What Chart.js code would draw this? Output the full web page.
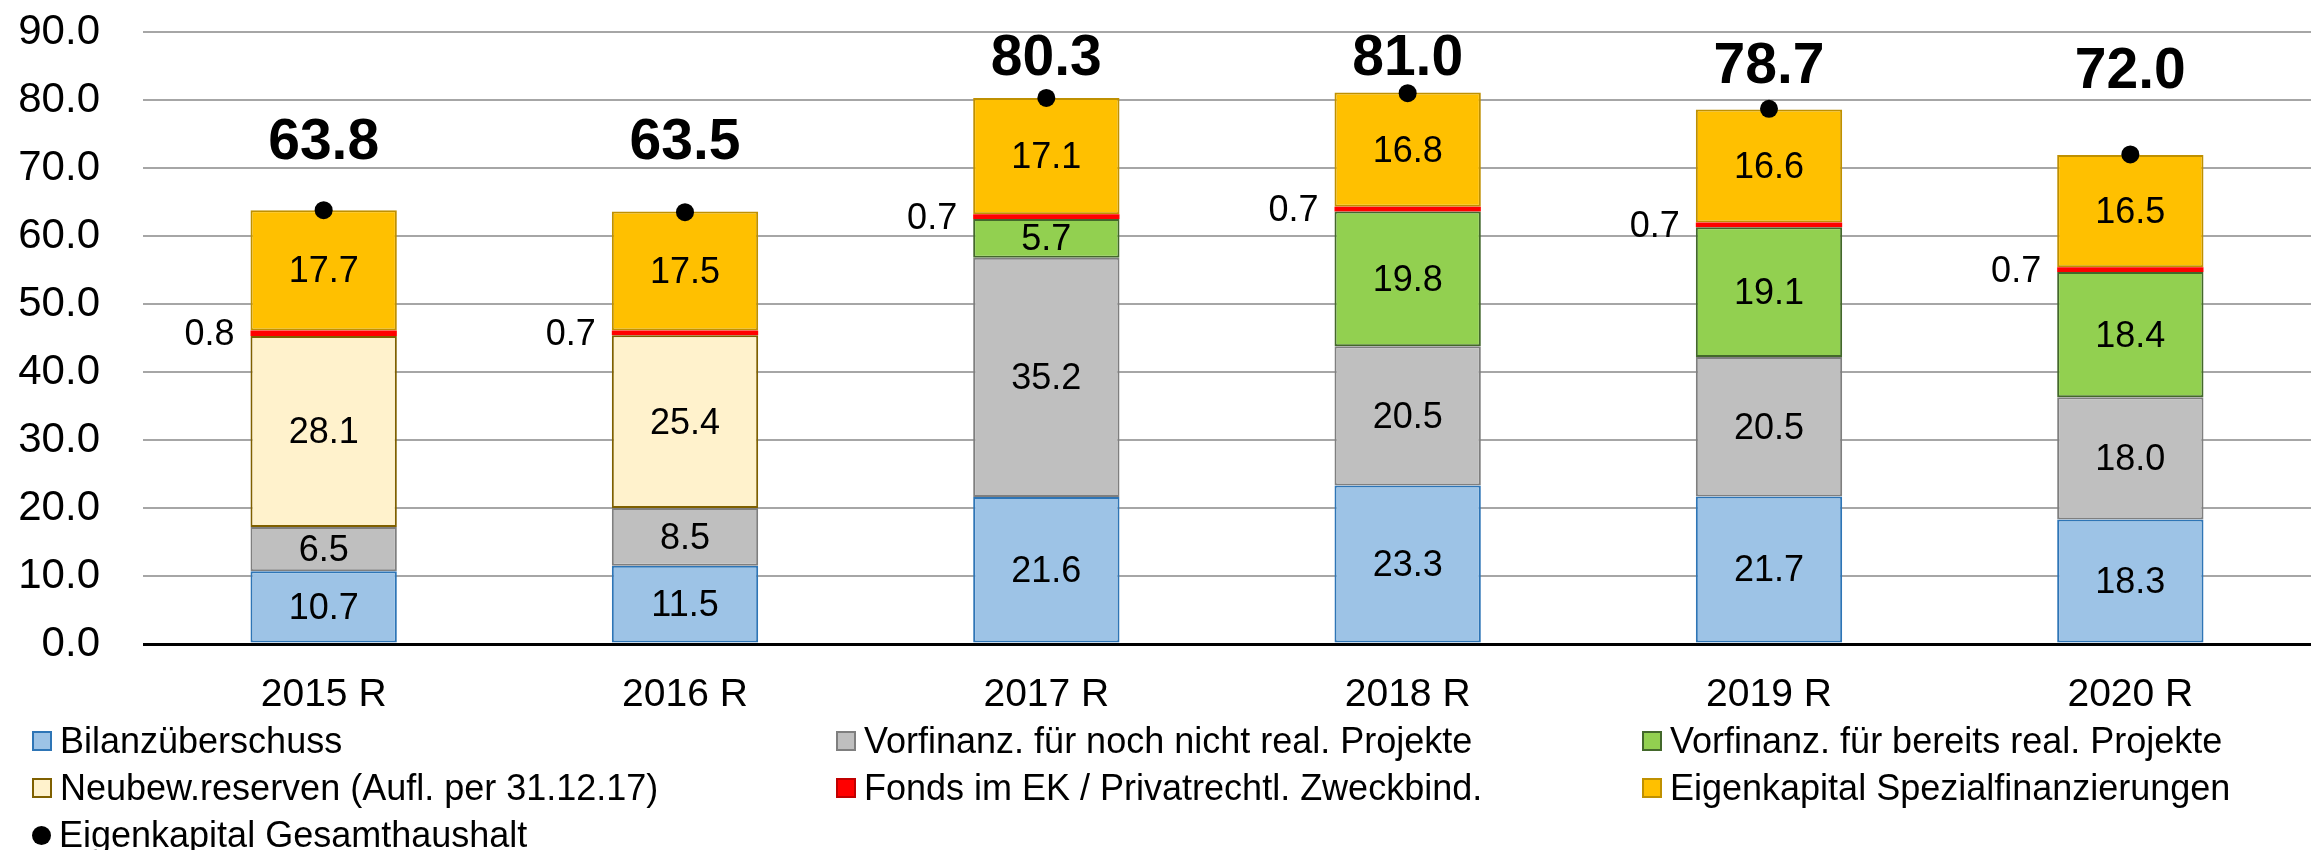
<!DOCTYPE html>
<html>
<head>
<meta charset="utf-8">
<script src="https://cdn.jsdelivr.net/npm/chart.js@4/dist/chart.umd.min.js"></script>
<style>
  html, body { margin: 0; padding: 0; background: #fff; }
  #wrap { position: relative; width: 2320px; height: 850px; font-family: "Liberation Sans", Arial, sans-serif; }
  #chart { position: absolute; left: 0; top: 0; }
  .lg-item { position: absolute; display: flex; align-items: center; font-size: 36px; color: #000; white-space: nowrap; height: 40px; }
  .lg-box { width: 16px; height: 16px; border: 2px solid; margin-right: 8px; }
  .lg-dot { width: 19px; height: 19px; border-radius: 50%; background: #000; margin-right: 8px; }
</style>
</head>
<body>
<div id="wrap">
  <canvas id="chart" width="2320" height="850"></canvas>
  <div id="legend"></div>
</div>
<script>
// Daten (Mio.)
const categories = ['2015 R', '2016 R', '2017 R', '2018 R', '2019 R', '2020 R'];
const bilanzueberschuss = [10.7, 11.5, 21.6, 23.3, 21.7, 18.3];
const vorfinNochNicht = [6.5, 8.5, 35.2, 20.5, 20.5, 18.0];
const vorfinBereits = [null, null, 5.7, 19.8, 19.1, 18.4];
const neubewReserven = [28.1, 25.4, null, null, null, null];
const fondsEK = [0.8, 0.7, 0.7, 0.7, 0.7, 0.7];
const ekSpezial = [17.7, 17.5, 17.1, 16.8, 16.6, 16.5];
const ekGesamt = [63.8, 63.5, 80.3, 81.0, 78.7, 72.0];

const seriesNames = [
    'Bilanzüberschuss',
    'Vorfinanz. für noch nicht real. Projekte',
    'Vorfinanz. für bereits real. Projekte',
    'Neubew.reserven (Aufl. per 31.12.17)',
    'Fonds im EK / Privatrechtl. Zweckbind.',
    'Eigenkapital Spezialfinanzierungen',
    'Eigenkapital Gesamthaushalt'
];
const fillColors = ['#9DC3E6', '#BFBFBF', '#92D050', '#FFF2CC', '#FF0000', '#FFC000'];
const borderColors = ['#2E75B6', '#7F7F7F', '#43682B', '#7F6000', '#FF0000', '#BF9000'];

const FONT = '"Liberation Sans", Arial, sans-serif';

function barSet(idx, values) {
    return {
        type: 'bar',
        label: seriesNames[idx],
        data: values,
        backgroundColor: fillColors[idx],
        borderColor: borderColors[idx],
        borderWidth: idx === 4 ? 0 : 2,
        borderSkipped: false,
        stack: 'ek',
        order: 1,
        categoryPercentage: 1,
        barPercentage: 0.405
    };
}

// Datenbeschriftungen zeichnen
const valueLabels = {
    id: 'valueLabels',
    afterDatasetsDraw(chart, args, opts) {
        const ctx = chart.ctx;
        ctx.save();
        ctx.fillStyle = '#000';
        ctx.textBaseline = 'middle';
        chart.data.datasets.forEach((ds, i) => {
            const meta = chart.getDatasetMeta(i);
            meta.data.forEach((el, j) => {
                const v = ds.data[j];
                if (v == null) return;
                const txt = v.toFixed(1);
                if (ds.type === 'line') {
                    ctx.font = 'bold 57px ' + FONT;
                    ctx.textAlign = 'center';
                    ctx.fillText(txt, el.x, el.y - opts.totalOffsets[j]);
                } else if (i === 4) {
                    ctx.font = '36px ' + FONT;
                    ctx.textAlign = 'right';
                    ctx.fillText(txt, el.x - el.width / 2 - 16, (el.y + el.base) / 2 + 2);
                } else {
                    ctx.font = '36px ' + FONT;
                    ctx.textAlign = 'center';
                    ctx.fillText(txt, el.x, (el.y + el.base) / 2 + 2);
                }
            });
        });
        ctx.restore();
    }
};

const chart = new Chart(document.getElementById('chart'), {
    data: {
        labels: categories,
        datasets: [
            barSet(0, bilanzueberschuss),
            barSet(1, vorfinNochNicht),
            barSet(2, vorfinBereits),
            barSet(3, neubewReserven),
            barSet(4, fondsEK),
            barSet(5, ekSpezial),
            {
                type: 'line',
                label: seriesNames[6],
                data: ekGesamt,
                showLine: false,
                pointRadius: 9,
                pointBackgroundColor: '#000',
                pointBorderColor: '#000',
                pointBorderWidth: 0,
                order: 0
            }
        ]
    },
    options: {
        responsive: false,
        animation: false,
        events: [],
        layout: { padding: { top: 32, left: 18, right: 0, bottom: 136 } },
        plugins: {
            legend: { display: false },
            tooltip: { enabled: false },
            valueLabels: { totalOffsets: [67, 69, 39, 34, 42, 82] }
        },
        scales: {
            x: {
                stacked: true,
                grid: { display: false },
                border: { display: false },
                ticks: { color: '#000', font: { family: FONT, size: 39 }, padding: 20 },
                afterFit(scale) { scale.height = 70; }
            },
            y: {
                stacked: true,
                min: 0,
                max: 90,
                border: { display: false },
                grid: {
                    drawTicks: false,
                    color: c => c.tick.value === 0 ? '#000' : '#A6A6A6',
                    lineWidth: c => c.tick.value === 0 ? 3 : 2
                },
                ticks: {
                    stepSize: 10,
                    color: '#000',
                    padding: 43,
                    font: { family: FONT, size: 42 },
                    callback: v => v.toFixed(1)
                },
                afterFit(scale) {
                    scale.width = 125;
                    scale.paddingTop = 0;
                    scale.paddingBottom = 0;
                }
            }
        }
    },
    plugins: [valueLabels]
});

// Legende (3 Spalten)
const legendCols = [32, 836, 1642];
const legendRows = [741, 788, 835];
const legend = document.getElementById('legend');
seriesNames.forEach((name, i) => {
    const item = document.createElement('div');
    item.className = 'lg-item';
    item.style.left = legendCols[i % 3] + 'px';
    item.style.top = (legendRows[Math.floor(i / 3)] - 20) + 'px';
    const marker = document.createElement('span');
    if (i < 6) {
        marker.className = 'lg-box';
        marker.style.background = fillColors[i];
        marker.style.borderColor = i === 4 ? '#C00000' : borderColors[i];
    } else {
        marker.className = 'lg-dot';
    }
    const txt = document.createElement('span');
    txt.textContent = name;
    item.appendChild(marker);
    item.appendChild(txt);
    legend.appendChild(item);
});
</script>
</body>
</html>
